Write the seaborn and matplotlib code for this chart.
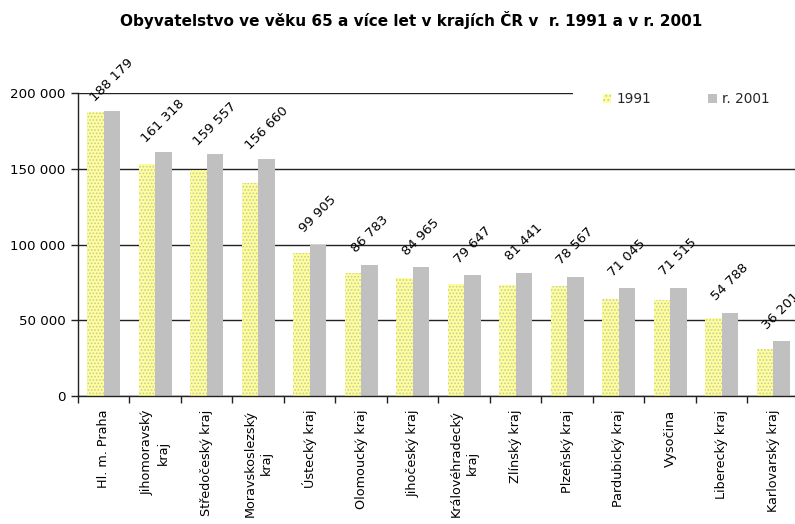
import matplotlib
matplotlib.use("Agg")
import matplotlib.pyplot as plt
import seaborn as sns
import pandas as pd
from matplotlib.patches import Patch
from matplotlib.ticker import FuncFormatter, FixedLocator

kraje = ["Hl. m. Praha", "Jihomoravský\nkraj", "Středočeský kraj", "Moravskoslezský\nkraj",
         "Ústecký kraj", "Olomoucký kraj", "Jihočeský kraj", "Královéhradecký\nkraj",
         "Zlínský kraj", "Plzeňský kraj", "Pardubický kraj", "Vysočina",
         "Liberecký kraj", "Karlovarský kraj"]
v1991 = [187800, 153300, 149400, 140500, 94400, 81100, 77700, 74000, 73500, 72900, 64300, 63500, 51300, 30800]
v2001 = [188179, 161318, 159557, 156660, 99905, 86783, 84965, 79647, 81441, 78567, 71045, 71515, 54788, 36201]
series = ["1991", "r. 2001"]
title = "Obyvatelstvo ve věku 65 a více let v krajích ČR v  r. 1991 a v r. 2001"

df = pd.DataFrame({
    "kraj": kraje * 2,
    "hodnota": v1991 + v2001,
    "rok": [series[0]] * len(kraje) + [series[1]] * len(kraje),
})

sns.set_style("white")
plt.rcParams["font.family"] = ["DejaVu Sans"]
plt.rcParams["hatch.linewidth"] = 0.8

yellow = "#FFFF99"
gray = "#C0C0C0"
dotcol = "#C8C8A8"

fig = plt.figure(figsize=(7.95, 5.24), dpi=100)
ax = fig.add_axes([0.098, 0.2443, 0.907, 0.578])

sns.barplot(data=df, x="kraj", y="hodnota", hue="rok", palette=[yellow, gray],
            width=0.64, ax=ax, legend=False, saturation=1, linewidth=0)

for p in ax.containers[0]:
    p.set_hatch(".....")
    p.set_edgecolor(dotcol)
    p.set_linewidth(0)

# value labels on 2001 bars
for p, v in zip(ax.containers[1], v2001):
    x = p.get_x() + p.get_width() / 2
    ax.annotate(f"{v:,}".replace(",", " "), xy=(x, p.get_height()), xytext=(0, 22),
                textcoords="offset points", rotation=45, ha="center", va="center",
                fontsize=9.5, color="black", annotation_clip=False)

ax.set_ylim(0, 200000)
ax.set_xlim(-0.5, len(kraje) - 0.5)
ax.set_yticks([0, 50000, 100000, 150000, 200000])
ax.yaxis.set_major_formatter(FuncFormatter(lambda v, _: f"{int(v):,}".replace(",", " ")))
ax.yaxis.grid(True, color="#222222", linewidth=1.0)
ax.set_axisbelow(True)

ax.set_xlabel("")
ax.set_ylabel("")
ax.set_xticks(range(len(kraje)))
ax.set_xticklabels(kraje, rotation=90, ha="center", va="top", multialignment="center",
                   linespacing=1.25)
ax.xaxis.set_minor_locator(FixedLocator([i - 0.5 for i in range(len(kraje) + 1)]))
ax.tick_params(axis="x", which="major", length=0, pad=10, labelsize=9.2, colors="black")
ax.tick_params(axis="x", which="minor", length=5, width=1, color="#222222", direction="out", bottom=True)
ax.tick_params(axis="y", length=5, width=1, color="#222222", direction="out", left=True,
               labelsize=9.6, labelcolor="black", pad=4)

for s in ["top", "right"]:
    ax.spines[s].set_visible(False)
for s in ["left", "bottom"]:
    ax.spines[s].set_color("#222222")
    ax.spines[s].set_linewidth(1.0)

handles = [Patch(facecolor=yellow, edgecolor=dotcol, hatch="....", linewidth=0, label=series[0]),
           Patch(facecolor=gray, edgecolor=gray, linewidth=0, label=series[1])]
leg = fig.legend(handles=handles, loc="center left", bbox_to_anchor=(573 / 795, 1 - 99 / 524),
                 ncol=2, frameon=True, facecolor="white", edgecolor="none", framealpha=1,
                 fontsize=9.8, handlelength=0.6, handleheight=0.6, handletextpad=0.4,
                 columnspacing=4.2, borderpad=2.2, borderaxespad=0)
leg.get_frame().set_boxstyle("square", pad=0)

fig.text(411 / 795, 1 - 20 / 524, title, ha="center", va="center",
         fontsize=11, fontweight="bold", color="black")

fig.savefig("out.png", dpi=100, facecolor="white")
